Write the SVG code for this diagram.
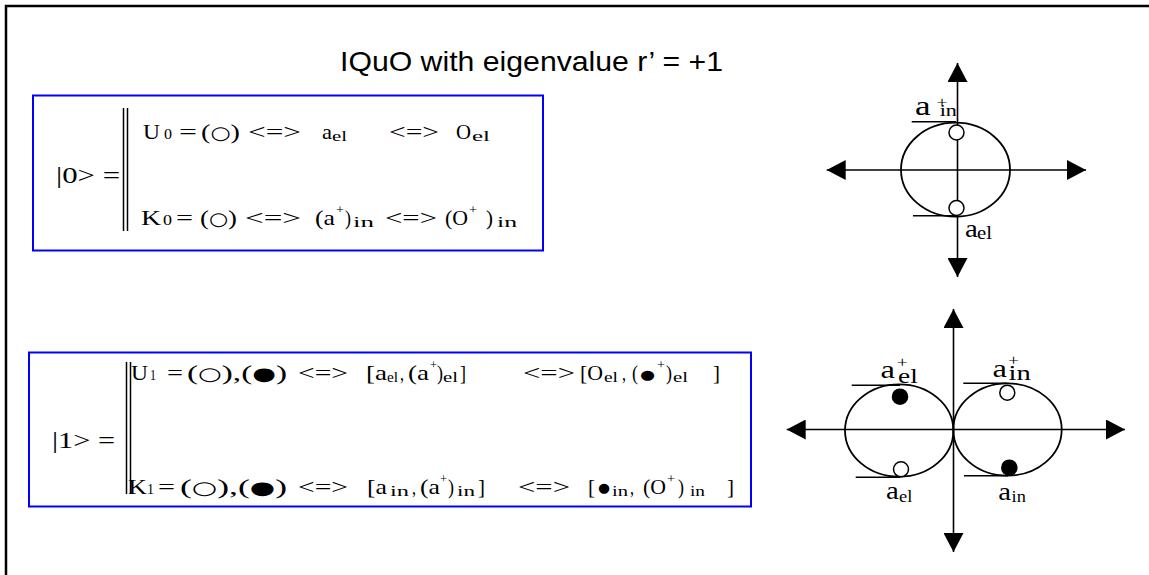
<svg xmlns="http://www.w3.org/2000/svg" width="1149" height="575" viewBox="0 0 1149 575">
<style>
.m{font-family:"Liberation Serif","DejaVu Serif",serif;font-size:22px;fill:#000}
.sb{font-size:14px}
.sp{font-size:13px}
.big{font-size:23px}
.g{font-family:"DejaVu Sans",sans-serif;font-size:18px}
.gs{font-family:"DejaVu Sans",sans-serif;font-size:13px}
.ttl{font-family:"Liberation Sans",Arial,sans-serif;font-size:28px;fill:#000}
.box{fill:none;stroke:#0000ff;stroke-width:2}
.bar{stroke:#000;stroke-width:1.5}
.el{fill:none;stroke:#000;stroke-width:1.8}
.tan{stroke:#000;stroke-width:1.5}
.oc{fill:#fff;stroke:#000;stroke-width:1.5}
.fc{fill:#000}
.ax{stroke:#000;stroke-width:1.6;fill:none;marker-start:url(#ah);marker-end:url(#ah)}
</style>
<defs>
<marker id="ah" markerUnits="userSpaceOnUse" markerWidth="20" markerHeight="20" viewBox="0 0 20 20" refX="19" refY="10" orient="auto-start-reverse">
<path d="M0,0 L19,10 L0,20 z" fill="#000"/>
</marker>
</defs>
<rect width="1149" height="575" fill="#fff"/>
<path d="M6,575 V6 H1149" fill="none" stroke="#000" stroke-width="2.5"/>
<text class="ttl" x="340" y="71" textLength="383" lengthAdjust="spacingAndGlyphs">IQuO with eigenvalue r’ = +1</text>

<g id="state0">
<rect class="box" x="33" y="95.5" width="510" height="155"/>
<text class="m big" x="56" y="183" textLength="64" lengthAdjust="spacingAndGlyphs">|0&gt; =</text>
<line class="bar" x1="123.5" y1="108" x2="123.5" y2="231"/>
<line class="bar" x1="127.5" y1="108" x2="127.5" y2="231"/>
<g id="u0">
<text class="m" x="143" y="139" textLength="17" lengthAdjust="spacingAndGlyphs">U</text>
<text class="m sb" x="164" y="139" textLength="8" lengthAdjust="spacingAndGlyphs">0</text>
<text class="m" x="179" y="139" textLength="18" lengthAdjust="spacingAndGlyphs">=</text>
<text class="m" x="201" y="139" textLength="39" lengthAdjust="spacingAndGlyphs">(<tspan class="g">○</tspan>)</text>
<text class="m" x="248" y="139" textLength="53" lengthAdjust="spacingAndGlyphs">&lt;=&gt;</text>
<text class="m" x="322" y="139" textLength="10" lengthAdjust="spacingAndGlyphs">a</text>
<text class="m sb" x="332" y="141" textLength="15" lengthAdjust="spacingAndGlyphs">el</text>
<text class="m" x="389" y="139" textLength="50" lengthAdjust="spacingAndGlyphs">&lt;=&gt;</text>
<text class="m" x="456" y="139" textLength="15" lengthAdjust="spacingAndGlyphs">O</text>
<text class="m sb" x="472" y="141" textLength="18" lengthAdjust="spacingAndGlyphs">el</text>
</g>
<g id="k0">
<text class="m" x="141" y="225" textLength="20" lengthAdjust="spacingAndGlyphs">K</text>
<text class="m sb" x="163" y="225" textLength="9" lengthAdjust="spacingAndGlyphs">0</text>
<text class="m" x="176" y="225" textLength="17" lengthAdjust="spacingAndGlyphs">=</text>
<text class="m" x="200" y="225" textLength="37" lengthAdjust="spacingAndGlyphs">(<tspan class="g">○</tspan>)</text>
<text class="m" x="245" y="225" textLength="56" lengthAdjust="spacingAndGlyphs">&lt;=&gt;</text>
<text class="m" x="315" y="225" textLength="20" lengthAdjust="spacingAndGlyphs">(a</text>
<text class="m sp" x="336" y="214" textLength="8" lengthAdjust="spacingAndGlyphs">+</text>
<text class="m" x="345" y="225" textLength="6" lengthAdjust="spacingAndGlyphs">)</text>
<text class="m sb" x="353" y="227" textLength="21" lengthAdjust="spacingAndGlyphs">in</text>
<text class="m" x="385" y="225" textLength="52" lengthAdjust="spacingAndGlyphs">&lt;=&gt;</text>
<text class="m" x="445" y="225" textLength="23" lengthAdjust="spacingAndGlyphs">(O</text>
<text class="m sp" x="469" y="214" textLength="8" lengthAdjust="spacingAndGlyphs">+</text>
<text class="m" x="486" y="225" textLength="7" lengthAdjust="spacingAndGlyphs">)</text>
<text class="m sb" x="497" y="227" textLength="20" lengthAdjust="spacingAndGlyphs">in</text>
</g>
</g>

<g id="state1">
<rect class="box" x="29" y="352.5" width="722" height="154"/>
<text class="m big" x="52" y="448" textLength="63" lengthAdjust="spacingAndGlyphs">|1&gt; =</text>
<line class="bar" x1="126.5" y1="362" x2="126.5" y2="494"/>
<line class="bar" x1="130.5" y1="362" x2="130.5" y2="494"/>
<g id="u1">
<text class="m" x="131" y="380" textLength="17" lengthAdjust="spacingAndGlyphs">U</text>
<text class="m sb" x="150" y="380" textLength="6" lengthAdjust="spacingAndGlyphs">1</text>
<text class="m" x="167" y="380" textLength="16" lengthAdjust="spacingAndGlyphs">=</text>
<text class="m" x="187" y="380" textLength="100" lengthAdjust="spacingAndGlyphs">(<tspan class="g">○</tspan>),(<tspan class="g">●</tspan>)</text>
<text class="m" x="298" y="380" textLength="50" lengthAdjust="spacingAndGlyphs">&lt;=&gt;</text>
<text class="m" x="366" y="380" textLength="21" lengthAdjust="spacingAndGlyphs">[a</text>
<text class="m sb" x="387" y="382" textLength="11" lengthAdjust="spacingAndGlyphs">el</text>
<text class="m" x="400" y="380" textLength="4" lengthAdjust="spacingAndGlyphs">,</text>
<text class="m" x="408" y="380" textLength="21" lengthAdjust="spacingAndGlyphs">(a</text>
<text class="m sp" x="430" y="369" textLength="7" lengthAdjust="spacingAndGlyphs">+</text>
<text class="m" x="437" y="380" textLength="6" lengthAdjust="spacingAndGlyphs">)</text>
<text class="m sb" x="443" y="382" textLength="15" lengthAdjust="spacingAndGlyphs">el</text>
<text class="m" x="460" y="380" textLength="6" lengthAdjust="spacingAndGlyphs">]</text>
<text class="m" x="523" y="380" textLength="52" lengthAdjust="spacingAndGlyphs">&lt;=&gt;</text>
<text class="m" x="580" y="380" textLength="23" lengthAdjust="spacingAndGlyphs">[O</text>
<text class="m sb" x="604" y="382" textLength="14" lengthAdjust="spacingAndGlyphs">el</text>
<text class="m" x="622" y="380" textLength="4" lengthAdjust="spacingAndGlyphs">,</text>
<text class="m" x="632" y="380" textLength="6" lengthAdjust="spacingAndGlyphs">(</text>
<text class="gs" x="640" y="379" textLength="15" lengthAdjust="spacingAndGlyphs">●</text>
<text class="m sp" x="657" y="369" textLength="8" lengthAdjust="spacingAndGlyphs">+</text>
<text class="m" x="666" y="380" textLength="6" lengthAdjust="spacingAndGlyphs">)</text>
<text class="m sb" x="673" y="382" textLength="15" lengthAdjust="spacingAndGlyphs">el</text>
<text class="m" x="713" y="380" textLength="7" lengthAdjust="spacingAndGlyphs">]</text>
</g>
<g id="k1">
<text class="m" x="128" y="494" textLength="19" lengthAdjust="spacingAndGlyphs">K</text>
<text class="m sb" x="147" y="494" textLength="7" lengthAdjust="spacingAndGlyphs">1</text>
<text class="m" x="158" y="494" textLength="17" lengthAdjust="spacingAndGlyphs">=</text>
<text class="m" x="180" y="494" textLength="107" lengthAdjust="spacingAndGlyphs">(<tspan class="g">○</tspan>),(<tspan class="g">●</tspan>)</text>
<text class="m" x="298" y="494" textLength="50" lengthAdjust="spacingAndGlyphs">&lt;=&gt;</text>
<text class="m" x="367" y="494" textLength="20" lengthAdjust="spacingAndGlyphs">[a</text>
<text class="m sb" x="390" y="496" textLength="19" lengthAdjust="spacingAndGlyphs">in</text>
<text class="m" x="412" y="494" textLength="4" lengthAdjust="spacingAndGlyphs">,</text>
<text class="m" x="420" y="494" textLength="20" lengthAdjust="spacingAndGlyphs">(a</text>
<text class="m sp" x="440" y="483" textLength="7" lengthAdjust="spacingAndGlyphs">+</text>
<text class="m" x="448" y="494" textLength="6" lengthAdjust="spacingAndGlyphs">)</text>
<text class="m sb" x="457" y="496" textLength="18" lengthAdjust="spacingAndGlyphs">in</text>
<text class="m" x="478" y="494" textLength="7" lengthAdjust="spacingAndGlyphs">]</text>
<text class="m" x="518" y="494" textLength="52" lengthAdjust="spacingAndGlyphs">&lt;=&gt;</text>
<text class="m" x="588" y="494" textLength="7" lengthAdjust="spacingAndGlyphs">[</text>
<text class="gs" x="598" y="492" textLength="12" lengthAdjust="spacingAndGlyphs">●</text>
<text class="m sb" x="612" y="496" textLength="16" lengthAdjust="spacingAndGlyphs">in</text>
<text class="m" x="630" y="494" textLength="4" lengthAdjust="spacingAndGlyphs">,</text>
<text class="m" x="643" y="494" textLength="23" lengthAdjust="spacingAndGlyphs">(O</text>
<text class="m sp" x="667" y="483" textLength="8" lengthAdjust="spacingAndGlyphs">+</text>
<text class="m" x="678" y="494" textLength="6" lengthAdjust="spacingAndGlyphs">)</text>
<text class="m sb" x="690" y="496" textLength="15" lengthAdjust="spacingAndGlyphs">in</text>
<text class="m" x="727" y="494" textLength="7" lengthAdjust="spacingAndGlyphs">]</text>
</g>
</g>

<g id="connectors">
<line class="ax" x1="957.5" y1="63" x2="957.5" y2="277"/>
<line class="ax" x1="826.7" y1="170" x2="1086" y2="170"/>
<line class="ax" x1="953.5" y1="309" x2="953.5" y2="552"/>
<line class="ax" x1="786.7" y1="429.5" x2="1125" y2="429.5"/>
</g>

<g id="diagram0">
<ellipse class="el" cx="955.5" cy="169.7" rx="54.5" ry="47"/>
<line class="tan" x1="911.7" y1="121.7" x2="956" y2="121.7"/>
<line class="tan" x1="913" y1="215.7" x2="956" y2="215.7"/>
<circle class="oc" cx="956.5" cy="132.5" r="7.5"/>
<circle class="oc" cx="956.5" cy="208" r="7.5"/>
<text class="m" transform="translate(915,115) scale(1.3,1)"><tspan x="0" y="0" font-size="27">a</tspan><tspan x="16.5" y="-8" font-size="15">+</tspan><tspan x="19" y="1" font-size="17">in</tspan></text>
<text class="m" transform="translate(965,237) scale(1.15,1)"><tspan x="0" y="0" font-size="25">a</tspan><tspan x="10.5" y="1.5" font-size="18">el</tspan></text>
</g>

<g id="diagram1">
<ellipse class="el" cx="899.2" cy="430.5" rx="54.2" ry="46.2"/>
<ellipse class="el" cx="1007.5" cy="429.5" rx="54.2" ry="46.2"/>
<line class="tan" x1="851.7" y1="385.3" x2="900" y2="385.3"/>
<line class="tan" x1="855.7" y1="477.3" x2="900" y2="477.3"/>
<line class="tan" x1="963.3" y1="383.3" x2="1007" y2="383.3"/>
<line class="tan" x1="964" y1="475.7" x2="1008" y2="475.7"/>
<circle class="fc" cx="900" cy="396.7" r="8.3"/>
<circle class="oc" cx="901" cy="469.3" r="7.5"/>
<circle class="oc" cx="1007.3" cy="392.7" r="7.5"/>
<circle class="fc" cx="1009.3" cy="467.7" r="8.3"/>
<text class="m" transform="translate(880.5,378) scale(1.3,1)"><tspan x="0" y="0" font-size="25">a</tspan><tspan x="12.5" y="-11" font-size="15">+</tspan><tspan x="13.5" y="4.5" font-size="21">el</tspan></text>
<text class="m" transform="translate(992.5,376.5) scale(1.3,1)"><tspan x="0" y="0" font-size="25">a</tspan><tspan x="12" y="-11.5" font-size="15">+</tspan><tspan x="12.3" y="3" font-size="22">in</tspan></text>
<text class="m" transform="translate(886,499.3) scale(1.15,1)"><tspan x="0" y="0" font-size="25">a</tspan><tspan x="11.3" y="2.4" font-size="16">el</tspan></text>
<text class="m" transform="translate(998.3,500) scale(1.15,1)"><tspan x="0" y="0" font-size="25">a</tspan><tspan x="11.5" y="2" font-size="16">in</tspan></text>
</g>
</svg>
